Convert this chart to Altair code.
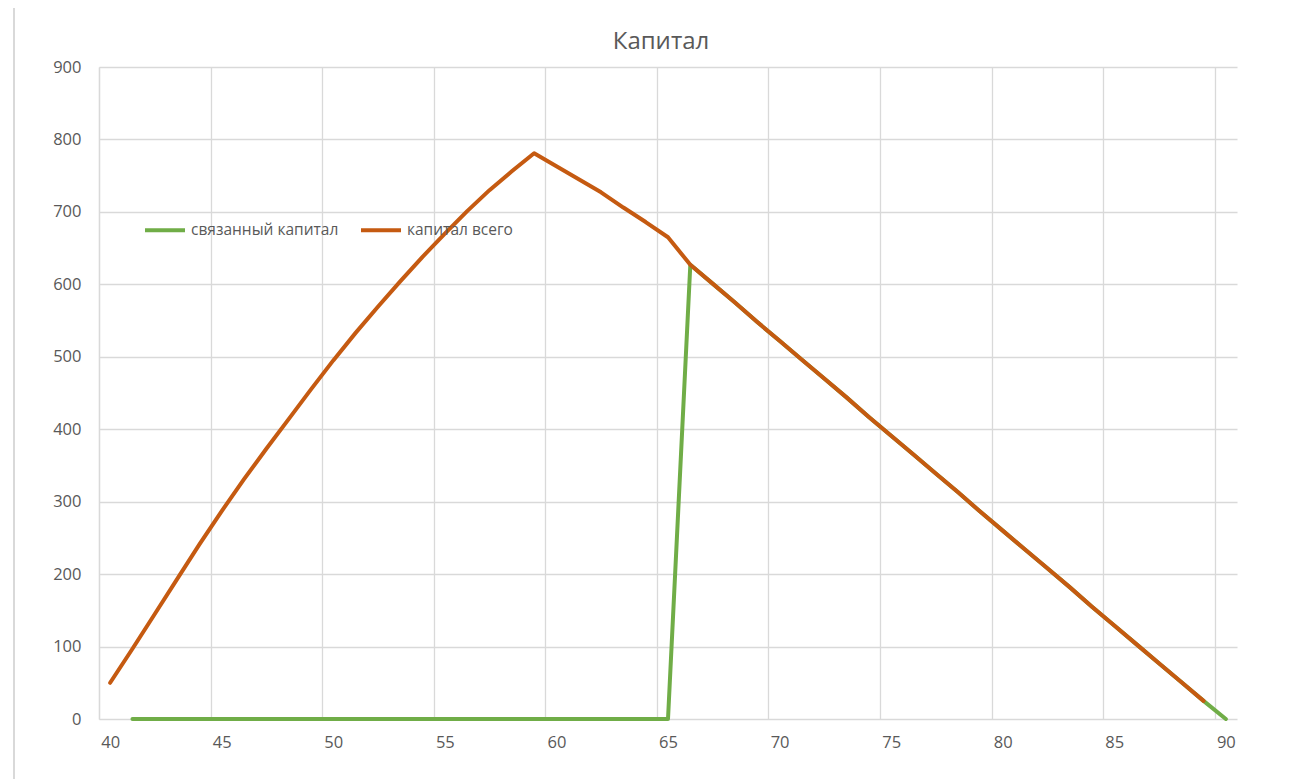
import altair as alt
import pandas as pd

ages = list(range(40, 91))

series_total_name = "капитал всего"
series_bound_name = "связанный капитал"
chart_title = "Капитал"

total_capital = [
    50, 97, 145, 193, 241, 287, 331, 373, 414, 455,
    495, 533, 569, 604, 638, 670, 701, 730, 756, 781,
    763, 745, 727, 706, 686, 665,
    627, 601, 575, 548, 522, 496, 470, 444, 417, 391,
    365, 339, 313, 286, 260, 234, 208, 182, 155, 129,
    103, 77, 51, 25,
    None,
]

bound_capital = [
    None,
    0, 0, 0, 0, 0, 0, 0, 0, 0, 0,
    0, 0, 0, 0, 0, 0, 0, 0, 0, 0,
    0, 0, 0, 0, 0,
    627, 601, 575, 548, 522, 496, 470, 444, 417, 391,
    365, 339, 313, 286, 260, 234, 208, 182, 155, 129,
    103, 77, 51, 25,
    0,
]

x_labels = [40, 45, 50, 55, 60, 65, 70, 75, 80, 85, 90]
y_ticks = [0, 100, 200, 300, 400, 500, 600, 700, 800, 900]

rows = []
for a, v in zip(ages, bound_capital):
    if v is not None:
        rows.append({"age": a, "value": v, "series": series_bound_name})
for a, v in zip(ages, total_capital):
    if v is not None:
        rows.append({"age": a, "value": v, "series": series_total_name})
df = pd.DataFrame(rows)

W, H = 1138, 652
half_band = W / len(ages) / 2
FONT = "Open Sans"
TXT = "#595959"

color_scale = alt.Scale(
    domain=[series_bound_name, series_total_name],
    range=["#70AD47", "#C55A11"],
)

x_enc = alt.X(
    "age:Q",
    scale=alt.Scale(domain=[39.5, 90.5], nice=False, zero=False),
    axis=alt.Axis(
        values=x_labels,
        title=None,
        grid=True,
        gridColor="#D9D9D9",
        gridWidth=1.3,
        ticks=False,
        domain=False,
        tickOffset=-half_band,
        labelOffset=half_band,
        labelPadding=15,
        labelFontSize=16.5,
        labelColor=TXT,
        labelFont=FONT,
    ),
)
y_enc = alt.Y(
    "value:Q",
    scale=alt.Scale(domain=[0, 900], nice=False),
    axis=alt.Axis(
        values=y_ticks,
        title=None,
        grid=True,
        gridColor="#D9D9D9",
        gridWidth=1.3,
        ticks=False,
        domain=True,
        domainColor="#D9D9D9",
        domainWidth=1.3,
        labelPadding=18,
        labelFontSize=16.5,
        labelColor=TXT,
        labelFont=FONT,
    ),
)

color_enc = alt.Color(
    "series:N",
    scale=color_scale,
    legend=alt.Legend(
        title=None,
        orient="none",
        legendX=44,
        legendY=141,
        direction="horizontal",
        symbolType="stroke",
        symbolSize=1600,
        symbolStrokeWidth=4,
        labelFontSize=15.5,
        labelColor=TXT,
        labelFont=FONT,
        labelOffset=4,
        columnPadding=14,
    ),
)

base = alt.Chart(df)

bound_line = base.transform_filter(
    alt.datum.series == series_bound_name
).mark_line(strokeWidth=4, strokeJoin="round", strokeCap="round").encode(
    x=x_enc, y=y_enc, color=color_enc
)

total_line = base.transform_filter(
    alt.datum.series == series_total_name
).mark_line(strokeWidth=4, strokeJoin="round", strokeCap="round").encode(
    x=x_enc, y=y_enc, color=color_enc
)

frame = alt.Chart(pd.DataFrame({"k": [0]})).mark_rule(
    color="#D9D9D9", strokeWidth=2, clip=False
).encode(
    x=alt.value(-85), y=alt.value(-60), y2=alt.value(720)
)

title_text = alt.Chart(pd.DataFrame({"t": [chart_title]})).mark_text(
    fontSize=24, font=FONT, color=TXT, align="center", baseline="middle"
).encode(
    text="t:N", x=alt.value(562), y=alt.value(-25)
)

chart = alt.layer(frame, bound_line, total_line, title_text).properties(
    width=W,
    height=H,
    autosize=alt.AutoSizeParams(type="none"),
    padding={"left": 91, "top": 59, "right": 40, "bottom": 60},
).configure_view(stroke=None)

chart.save("out.html", embed_options={"renderer": "svg", "actions": False})
